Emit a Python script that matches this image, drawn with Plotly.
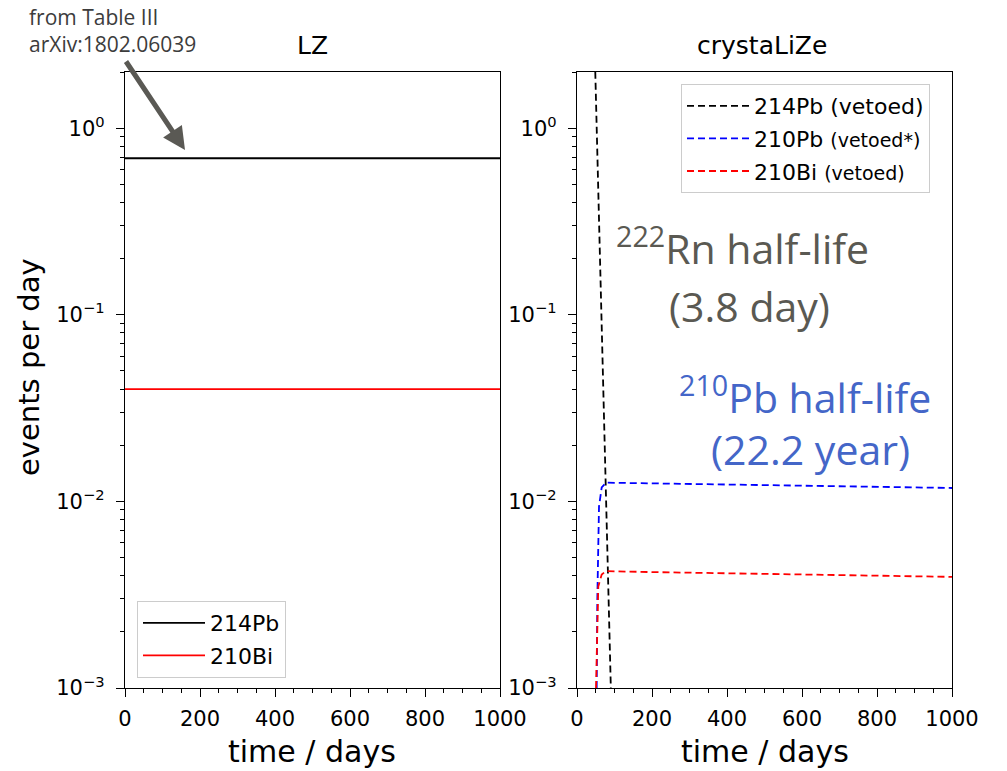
import plotly.graph_objects as go

# LZ: constant rates (from Table III, arXiv:1802.06039)
lz_days = [0, 1000]
lz_pb214 = [0.69, 0.69]
lz_bi210 = [0.040, 0.040]

# crystaLiZe: vetoed rates
cz_pb214_days = [48, 52.5, 65, 77.5, 90, 93]
cz_pb214 = [2.3, 1.0, 0.1, 0.01, 0.001, 0.0006]

cz_pb210_days = [52.5, 54.2, 58.7, 65.9, 77.3, 200, 400, 600, 800, 1000]
cz_pb210 = [0.001, 0.0030, 0.0094, 0.0119, 0.0126, 0.0125, 0.0123, 0.0121, 0.01195, 0.0118]

cz_bi210_days = [50.7, 56.8, 65.9, 77.3, 200, 400, 600, 800, 1000]
cz_bi210 = [0.001, 0.0035, 0.00406, 0.00423, 0.00418, 0.00412, 0.00406, 0.0040, 0.00394]

x_ticks = [0, 200, 400, 600, 800, 1000]
y_ticks = [0.001, 0.01, 0.1, 1]
y_ticktext = ["10<sup>−3</sup>", "10<sup>−2</sup>", "10<sup>−1</sup>", "10<sup>0</sup>"]
y_minor = [m * 10 ** k for k in range(-3, 1) for m in range(2, 10) if m * 10 ** k <= 2]

W, H = 1007, 771
TICK_FONT = dict(family="DejaVu Sans", size=21, color="black")
DASH = "7px,4px"


def px_x(v):
    return v / W


def px_y(v):
    return 1 - v / H


fig = go.Figure()

# left panel
fig.add_trace(go.Scatter(x=lz_days, y=lz_pb214, mode="lines", name="214Pb",
                         line=dict(color="black", width=1.8),
                         xaxis="x", yaxis="y", legend="legend", legendgroup="a"))
fig.add_trace(go.Scatter(x=lz_days, y=lz_bi210, mode="lines", name="210Bi",
                         line=dict(color="#ff0000", width=1.8),
                         xaxis="x", yaxis="y", legend="legend", legendgroup="b"))

# right panel
fig.add_trace(go.Scatter(x=cz_pb214_days, y=cz_pb214, mode="lines", name="214Pb (vetoed)",
                         line=dict(color="black", width=1.8, dash=DASH),
                         xaxis="x2", yaxis="y2", legend="legend2", legendgroup="c"))
fig.add_trace(go.Scatter(x=cz_pb210_days, y=cz_pb210, mode="lines",
                         name="210Pb <span style='font-size:19px'>(vetoed*)</span>",
                         line=dict(color="#0000ff", width=1.8, dash=DASH),
                         xaxis="x2", yaxis="y2", legend="legend2", legendgroup="d"))
fig.add_trace(go.Scatter(x=cz_bi210_days, y=cz_bi210, mode="lines",
                         name="210Bi <span style='font-size:19px'>(vetoed)</span>",
                         line=dict(color="#ff0000", width=1.8, dash=DASH),
                         xaxis="x2", yaxis="y2", legend="legend2", legendgroup="e"))

xax = dict(range=[0, 1000], tickmode="array", tickvals=x_ticks, ticks="outside",
           ticklen=8, tickwidth=1, tickcolor="black", tickfont=TICK_FONT,
           ticklabelstandoff=4,
           showline=True, linecolor="black", linewidth=1.3, mirror=True,
           showgrid=False, zeroline=False, automargin=False,
           minor=dict(dtick=50, ticks="outside", ticklen=4, tickcolor="black", showgrid=False))
yax = dict(type="log", range=[-3, 0.30103], tickmode="array", tickvals=y_ticks,
           ticktext=y_ticktext, ticks="outside", ticklen=8, tickwidth=1,
           tickcolor="black", tickfont=TICK_FONT, ticklabelstandoff=7,
           showline=True, linecolor="black", linewidth=1.3, mirror=True,
           showgrid=False, zeroline=False, automargin=False,
           minor=dict(tickmode="array", tickvals=y_minor, ticks="outside", ticklen=4,
                      tickcolor="black", showgrid=False))

legend_common = dict(xanchor="left", yanchor="top", bgcolor="rgba(255,255,255,0.85)",
                     bordercolor="#cccccc", borderwidth=1, tracegroupgap=1,
                     traceorder="grouped", itemwidth=62,
                     font=dict(family="DejaVu Sans", size=22, color="black"))

fig.update_layout(
    width=W, height=H, template="none",
    paper_bgcolor="white", plot_bgcolor="white",
    margin=dict(l=0, r=0, t=0, b=0),
    xaxis=dict(xax, domain=[px_x(125), px_x(500)], anchor="y"),
    yaxis=dict(yax, domain=[px_y(688), px_y(72)], anchor="x"),
    xaxis2=dict(xax, domain=[px_x(577), px_x(952)], anchor="y2"),
    yaxis2=dict(yax, domain=[px_y(688), px_y(72)], anchor="x2"),
    legend=dict(legend_common, x=px_x(137), y=px_y(601)),
    legend2=dict(legend_common, x=px_x(681), y=px_y(84)),
    showlegend=True,
)

ann = []


def text(t, x, y, size, color="black", family="Open Sans", xanchor="center",
         yanchor="middle", **kw):
    ann.append(dict(text=t, x=px_x(x), y=px_y(y), xref="paper", yref="paper",
                    xanchor=xanchor, yanchor=yanchor, showarrow=False,
                    font=dict(family=family, size=size, color=color), **kw))


# panel titles
text("LZ", 312, 45, 25, family="DejaVu Sans")
text("crystaLiZe", 762, 45, 25, family="DejaVu Sans")

# axis titles
text("time / days", 312, 751, 30, family="DejaVu Sans")
text("time / days", 765, 751, 30, family="DejaVu Sans")
text("events per day", 29, 367, 29, family="DejaVu Sans", textangle=-90)

# source note + arrow
text("from Table III<br>arXiv:1802.06039", 27, 1, 21, color="#3c3c3c",
     xanchor="left", yanchor="top", align="left")
ann.append(dict(text="", x=px_x(185), y=px_y(150), xref="paper", yref="paper",
                ax=-60, ay=-90, showarrow=True, arrowhead=2, arrowsize=0.9,
                arrowwidth=5, arrowcolor="#5a5954", standoff=0))

# half-life notes
GRAY, BLUE = "#5a5952", "#4466c8"
text("<sup>222</sup>Rn half-life", 742, 246, 41, color=GRAY)
text("(3.8 day)", 749, 306, 41, color=GRAY)
text("<sup>210</sup>Pb half-life", 805, 395, 41, color=BLUE)
text("(22.2 year)", 810, 449, 41, color=BLUE)

fig.update_layout(annotations=ann)

fig.write_html("out.html", config={"displayModeBar": False},
               post_script="document.body.style.margin='0';")
